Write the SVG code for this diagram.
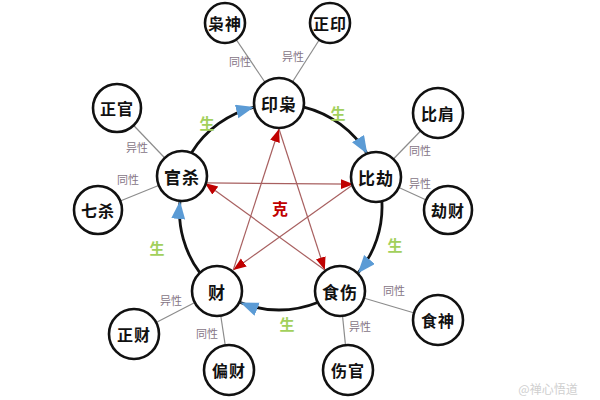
<svg xmlns="http://www.w3.org/2000/svg" width="600" height="400" viewBox="0 0 600 400">
<style>
.node circle{fill:#fff;stroke:#111;stroke-width:2.6}
.node text{font-family:"Noto Sans CJK SC","Noto Sans",sans-serif;font-weight:bold;fill:#111;text-anchor:middle;dominant-baseline:central;letter-spacing:1px}
.main text{font-size:17px}
.outer text{font-size:16px}
.arc{fill:none;stroke:#111;stroke-width:2.8}
.ke{stroke:#a86060;stroke-width:1.2;fill:none}
.rel{stroke:#8c8c8c;stroke-width:1.2}
.lbl{font-family:"Noto Sans CJK SC","Noto Sans",sans-serif;font-size:11px;fill:#857585;text-anchor:middle;dominant-baseline:central}
.sheng{font-family:"Noto Sans CJK SC","Noto Sans",sans-serif;font-size:15px;font-weight:bold;fill:#a2d05c;text-anchor:middle;dominant-baseline:central}
</style>
<defs>
<marker id="blue" markerUnits="userSpaceOnUse" markerWidth="20" markerHeight="16" refX="18" refY="7" orient="auto" viewBox="0 0 20 16">
<path d="M0,0 L18,7 L0,14 z" fill="#5b9bd5"/>
</marker>
<marker id="red" markerUnits="userSpaceOnUse" markerWidth="14" markerHeight="12" refX="13" refY="5" orient="auto" viewBox="0 0 14 12">
<path d="M0,0 L13,5 L0,10 z" fill="#c00000"/>
</marker>
</defs>
<rect width="600" height="400" fill="#fff"/>
<g id="connectors">
<g id="relations">
<line class="rel" x1="279" y1="103" x2="225" y2="23"/>
<line class="rel" x1="279" y1="103" x2="330" y2="23"/>
<line class="rel" x1="182" y1="176" x2="117" y2="108"/>
<line class="rel" x1="182" y1="176" x2="98" y2="210"/>
<line class="rel" x1="376" y1="177" x2="438" y2="113"/>
<line class="rel" x1="376" y1="177" x2="448" y2="210"/>
<line class="rel" x1="217" y1="291" x2="134" y2="334"/>
<line class="rel" x1="217" y1="291" x2="229" y2="370"/>
<line class="rel" x1="340" y1="291" x2="438" y2="320"/>
<line class="rel" x1="340" y1="291" x2="348" y2="370"/>
</g>
<g id="cycle">
<path class="arc" d="M191.7,152.4 A103,103 0 0 1 254.1,107.1" marker-end="url(#blue)"/>
<path class="arc" d="M303.9,107.1 A103,103 0 0 1 367.3,154" marker-end="url(#blue)"/>
<path class="arc" d="M381.9,201.6 A103,103 0 0 1 357.9,273.2" marker-end="url(#blue)"/>
<path class="arc" d="M317.6,302.5 A103,103 0 0 1 240.4,302.5" marker-end="url(#blue)"/>
<path class="arc" d="M200.1,273.2 A103,103 0 0 1 180,201" marker-end="url(#blue)"/>
</g>
<g id="star">
<line class="ke" x1="279" y1="129" x2="324.8" y2="270.1" marker-end="url(#red)"/>
<line class="ke" x1="324.8" y1="270.1" x2="204.8" y2="182.9" marker-end="url(#red)"/>
<line class="ke" x1="204.8" y1="182.9" x2="353.6" y2="184.2" marker-end="url(#red)"/>
<line class="ke" x1="353.6" y1="184.2" x2="233.2" y2="270.1" marker-end="url(#red)"/>
<line class="ke" x1="233.2" y1="270.1" x2="279" y2="129" marker-end="url(#red)"/>
</g>
</g>
<g id="labels">
<text class="lbl" x="240" y="61">同性</text>
<text class="lbl" x="293" y="56">异性</text>
<text class="lbl" x="137" y="147">异性</text>
<text class="lbl" x="128" y="179">同性</text>
<text class="lbl" x="420" y="150">同性</text>
<text class="lbl" x="420" y="183">异性</text>
<text class="lbl" x="171" y="300">异性</text>
<text class="lbl" x="207" y="333">同性</text>
<text class="lbl" x="394" y="290">同性</text>
<text class="lbl" x="360" y="326">异性</text>
<text class="sheng" x="207" y="122">生</text>
<text class="sheng" x="338" y="112">生</text>
<text class="sheng" x="395" y="244">生</text>
<text class="sheng" x="287" y="323">生</text>
<text class="sheng" x="157" y="247">生</text>
<text x="280" y="208" font-family="Noto Sans CJK SC,Noto Sans,sans-serif" font-size="16" font-weight="bold" fill="#c00000" text-anchor="middle" dominant-baseline="central">克</text>
</g>
<g id="n-yinxiao" class="node main"><circle cx="279" cy="103" r="25"/><text x="279" y="103">印枭</text></g>
<g id="n-guansha" class="node main"><circle cx="182" cy="176" r="25"/><text x="182" y="176">官杀</text></g>
<g id="n-bijie" class="node main"><circle cx="376" cy="177" r="25"/><text x="376" y="177">比劫</text></g>
<g id="n-cai" class="node main"><circle cx="217" cy="291" r="25"/><text x="217" y="291">财</text></g>
<g id="n-shishang" class="node main"><circle cx="340" cy="291" r="25"/><text x="340" y="291">食伤</text></g>
<g id="n-xiaoshen" class="node outer"><circle cx="225" cy="23" r="20"/><text x="225" y="23">枭神</text></g>
<g id="n-zhengyin" class="node outer"><circle cx="330" cy="23" r="20"/><text x="330" y="23">正印</text></g>
<g id="n-zhengguan" class="node outer"><circle cx="117" cy="108" r="24"/><text x="117" y="108">正官</text></g>
<g id="n-qisha" class="node outer"><circle cx="98" cy="210" r="24"/><text x="98" y="210">七杀</text></g>
<g id="n-bijian" class="node outer"><circle cx="438" cy="113" r="25"/><text x="438" y="113">比肩</text></g>
<g id="n-jiecai" class="node outer"><circle cx="448" cy="210" r="24"/><text x="448" y="210">劫财</text></g>
<g id="n-zhengcai" class="node outer"><circle cx="134" cy="334" r="25"/><text x="134" y="334">正财</text></g>
<g id="n-piancai" class="node outer"><circle cx="229" cy="370" r="25"/><text x="229" y="370">偏财</text></g>
<g id="n-shishen" class="node outer"><circle cx="438" cy="320" r="25"/><text x="438" y="320">食神</text></g>
<g id="n-shangguan" class="node outer"><circle cx="348" cy="370" r="25"/><text x="348" y="370">伤官</text></g>
<text x="548" y="388" font-family="Noto Sans CJK SC,Noto Sans,sans-serif" font-size="12" fill="#cfcfcf" text-anchor="middle" dominant-baseline="central">@禅心悟道</text>
</svg>
